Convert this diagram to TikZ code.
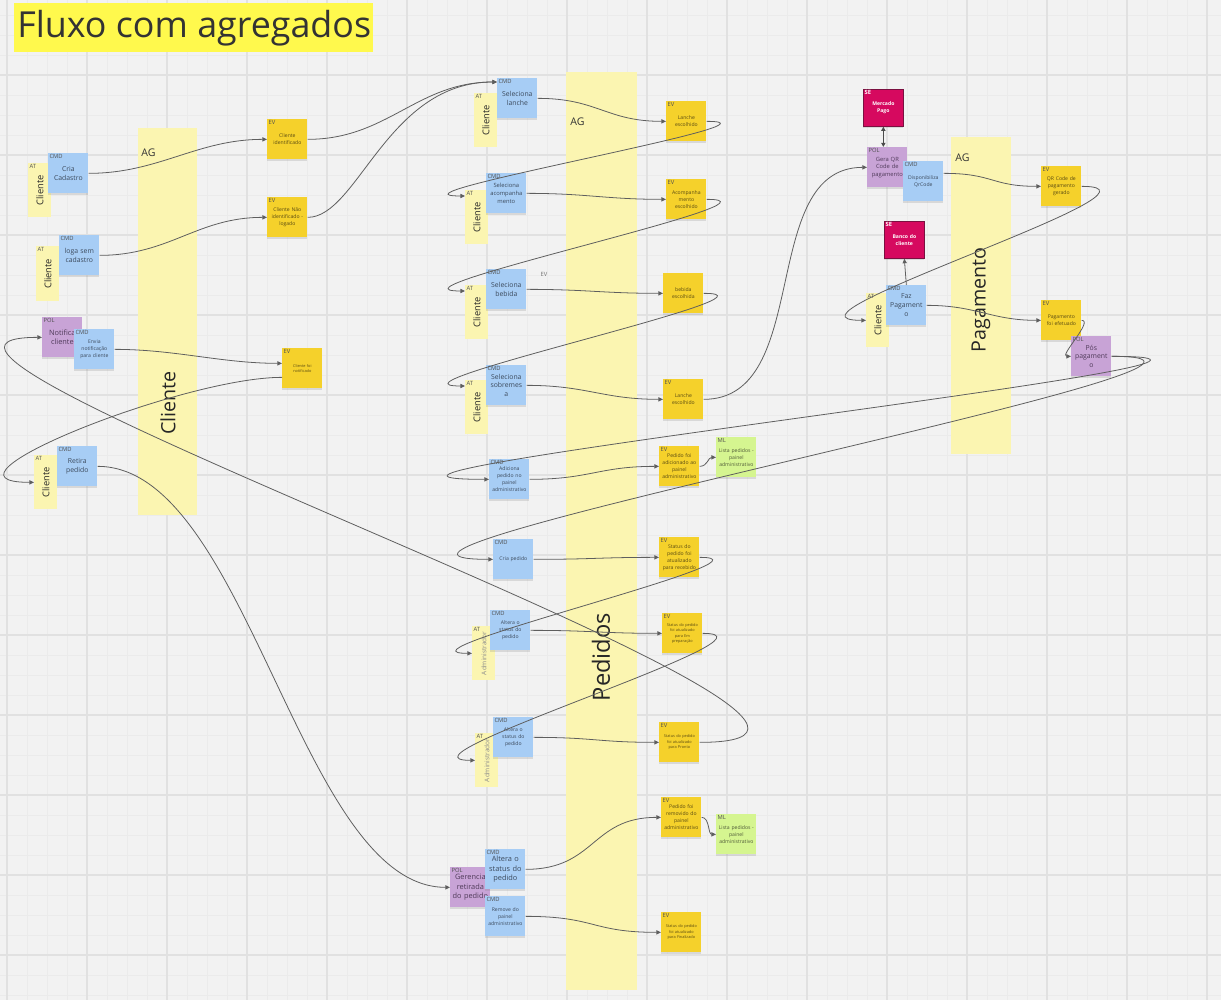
\documentclass[tikz,border=0pt]{standalone}
\usepackage{fontspec}
\setmainfont{Open Sans}
\usepackage{graphicx}
\usetikzlibrary{arrows.meta,calc,shadows}
\definecolor{bgc}{HTML}{F2F2F2}
\definecolor{majorg}{HTML}{E1E1E1}
\definecolor{minorg}{HTML}{EBEBEB}
\definecolor{titlec}{HTML}{FFF94D}
\definecolor{agfill}{HTML}{FBF5B1}
\definecolor{cmdc}{HTML}{A7CDF5}
\definecolor{evc}{HTML}{F5D12B}
\definecolor{polc}{HTML}{C8A3D6}
\definecolor{mlc}{HTML}{D5F590}
\definecolor{sec}{HTML}{D6095F}
\definecolor{sed}{HTML}{7A1040}
\definecolor{linec}{HTML}{5E5E5E}
\definecolor{tagc}{HTML}{505050}
\definecolor{cmdt}{HTML}{3C4A5C}
\definecolor{evt}{HTML}{5A4B12}
\definecolor{polt}{HTML}{4F3A59}
\definecolor{mlt}{HTML}{4F5A38}
\newcommand{\fmed}{\fontsize{3.9}{5}\selectfont}
\newcommand{\fbg}{\fontsize{4.2}{5.3}\selectfont}
\newcommand{\fmid}{\fontsize{3.3}{4.4}\selectfont}
\newcommand{\fsm}{\fontsize{2.9}{4}\selectfont}
\newcommand{\ftiny}{\fontsize{2.2}{3.1}\selectfont}
\newcommand{\ftag}{\fontsize{3.3}{3.6}\selectfont}
\newcommand{\fat}{\fontsize{5.3}{5.6}\selectfont}
\newcommand{\fadm}{\fontsize{3.7}{4}\selectfont}
\begin{document}
\begin{tikzpicture}[x=0.02cm,y=-0.02cm,
  note/.style={rectangle, anchor=north west, minimum width=0.8cm, minimum height=0.8cm,
    inner sep=0.3pt, align=center, text width=0.76cm,
    drop shadow={shadow xshift=0pt, shadow yshift=-0.9pt, opacity=0.22}},
  cmd/.style={note, fill=cmdc, text=cmdt},
  ev/.style={note, fill=evc, text=evt},
  pol/.style={note, fill=polc, text=polt},
  ml/.style={note, fill=mlc, text=mlt},
  se/.style={note, fill=sec, draw=sed, line width=0.4pt, text=white, minimum height=0.74cm,
    font=\fsm\bfseries},
  atn/.style={rectangle, anchor=north west, minimum width=0.46cm, minimum height=1.08cm,
    inner sep=0pt, fill=agfill, text=black!85, font=\fat},
  tag/.style={anchor=north west, inner sep=0.7pt, font=\ftag, text=tagc},
  setag/.style={anchor=north west, inner sep=0.7pt, font=\ftag\bfseries, text=white},
  aglab/.style={anchor=west, inner sep=0pt, font=\fontsize{6}{6}\selectfont, text=black!80},
  bigl/.style={inner sep=0pt, text=black!85},
  conn/.style={draw=linec, line width=0.45pt, -{Triangle[length=2.6pt,width=2.4pt]}},
  dconn/.style={draw=linec!80!black, line width=0.6pt, {Triangle[length=2.4pt,width=2.4pt]}-{Triangle[length=2.4pt,width=2.4pt]}}
]
\useasboundingbox (0,0) rectangle (1221,1000);
\fill[bgc] (0,0) rectangle (1221,1000);
\foreach \x in {7,27,...,1221} \draw[minorg, line width=0.3pt] (\x,0) -- (\x,1000);
\foreach \y in {15,35,...,1000} \draw[minorg, line width=0.3pt] (0,\y) -- (1221,\y);
\foreach \x in {7,87,...,1221} \draw[majorg, line width=0.6pt] (\x,0) -- (\x,1000);
\foreach \y in {-5,75,...,1000} \draw[majorg, line width=0.6pt] (0,\y) -- (1221,\y);

% title
\fill[titlec] (14,3) rectangle (373,52);
\node[anchor=west, inner sep=0pt, font=\fontsize{20.4}{20.4}\selectfont, text=black!80] (title) at (17,28) {Fluxo com agregados};

% aggregate columns
\fill[agfill] (138,128) rectangle (197,515);
\node[aglab] (agcl) at (141,153) {AG};
\node[bigl, font=\fontsize{11.2}{11.2}\selectfont] (agct) at (168,403) {\rotatebox{90}{Cliente}};
\fill[agfill] (566,72) rectangle (637,990);
\node[aglab] (agpl) at (570,122) {AG};
\node[bigl, font=\fontsize{13.5}{13.5}\selectfont] (agpt) at (601,657) {\rotatebox{90}{Pedidos}};
\fill[agfill] (951,137) rectangle (1011,454);
\node[aglab] (agpgl) at (955,158) {AG};
\node[bigl, font=\fontsize{11.2}{11.2}\selectfont] (agpgt) at (981,300) {\rotatebox{90}{Pagamento}};

% ---------- Cliente ----------
\node[atn, label={[tag]north west:AT}] (atc1) at (28,163) {\rotatebox{90}{Cliente}};
\node[cmd, font=\fmed, label={[tag]north west:CMD}] (cria) at (48,153) {Cria\\Cadastro};
\node[atn, minimum height=1.1cm, label={[tag]north west:AT}] (atc2) at (36,246) {\rotatebox{90}{Cliente}};
\node[cmd, font=\fmed, label={[tag]north west:CMD}] (loga) at (59,235) {loga sem\\cadastro};
\node[pol, font=\fbg, label={[tag]north west:POL}] (notif) at (42,317) {Notifica\\cliente};
\node[cmd, font=\fsm, label={[tag]north west:CMD}] (envia) at (74,329) {Envia\\notificação\\para cliente};
\node[atn, label={[tag]north west:AT}] (atc3) at (34,455) {\rotatebox{90}{Cliente}};
\node[cmd, font=\fmed, label={[tag]north west:CMD}] (retira) at (57,446) {Retira\\pedido};
\node[ev, font=\fsm, label={[tag]north west:EV}] (evid) at (267,119) {Cliente\\identificado};
\node[ev, font=\fsm, label={[tag]north west:EV}] (evnid) at (267,197) {Cliente Não\\identificado -\\logado};
\node[ev, font=\ftiny, label={[tag]north west:EV}] (evnot) at (282,348) {Cliente foi\\notificado};

% ---------- Pedidos ----------
\node[atn, label={[tag]north west:AT}] (atp1) at (474,93) {\rotatebox{90}{Cliente}};
\node[cmd, font=\fmed, label={[tag]north west:CMD}] (sl) at (497,78) {Seleciona\\lanche};
\node[ev, font=\fsm, label={[tag]north west:EV}] (evl1) at (666,101) {Lanche\\escolhido};
\node[atn, label={[tag]north west:AT}] (atp2) at (465,190) {\rotatebox{90}{Cliente}};
\node[cmd, font=\fmid, label={[tag]north west:CMD}] (sa) at (486,173) {Seleciona\\acompanha\\mento};
\node[ev, font=\fsm, label={[tag]north west:EV}] (eva) at (666,179) {Acompanha\\mento\\escolhido};
\node[atn, label={[tag]north west:AT}] (atp3) at (465,285) {\rotatebox{90}{Cliente}};
\node[cmd, font=\fmed, label={[tag]north west:CMD}] (sb) at (486,269) {Seleciona\\bebida};
\node[tag, text=black!55] (evstray) at (539,271) {EV};
\node[ev, font=\fsm] (evb) at (663,273) {bebida\\escolhida};
\node[atn, label={[tag]north west:AT}] (atp4) at (465,380) {\rotatebox{90}{Cliente}};
\node[cmd, font=\fmed, label={[tag]north west:CMD}] (ss) at (486,365) {Seleciona\\sobremes\\a};
\node[ev, font=\fsm, label={[tag]north west:EV}] (evl2) at (663,379) {Lanche\\escolhido};
\node[cmd, font=\fsm, label={[tag]north west:CMD}] (ad) at (489,459) {Adiciona\\pedido no\\painel\\administrativo};
\node[ev, font=\fsm, label={[tag]north west:EV}] (evad) at (659,446) {Pedido foi\\adicionado ao\\painel\\administrativo};
\node[ml, font=\fsm, label={[tag]north west:ML}] (ml1) at (716,437) {Lista pedidos -\\painel\\administrativo};
\node[cmd, font=\fsm, label={[tag]north west:CMD}] (cp) at (493,539) {Cria pedido};
\node[ev, font=\fsm, label={[tag]north west:EV}] (evrec) at (659,537) {Status do\\pedido foi\\atualizado\\para recebido};
\node[atn, text=black!45, font=\fadm, label={[tag]north west:AT}] (ata1) at (472,626) {\rotatebox{90}{Administrador}};
\node[cmd, font=\fsm, label={[tag]north west:CMD}] (alt1) at (490,610) {Altera o\\status do\\pedido};
\node[ev, font=\ftiny, label={[tag]north west:EV}] (evprep) at (662,613) {Status do pedido\\foi atualizado\\para Em\\preparação};
\node[atn, text=black!45, font=\fadm, label={[tag]north west:AT}] (ata2) at (475,733) {\rotatebox{90}{Administrador}};
\node[cmd, font=\fsm, label={[tag]north west:CMD}] (alt2) at (493,717) {Altera o\\status do\\pedido};
\node[ev, font=\ftiny, label={[tag]north west:EV}] (evpr) at (659,722) {Status do pedido\\foi atualizado\\para Pronto};
\node[ev, font=\fsm, label={[tag]north west:EV}] (evrem) at (661,797) {Pedido foi\\removido do\\painel\\administrativo};
\node[ml, font=\fsm, label={[tag]north west:ML}] (ml2) at (716,814) {Lista pedidos -\\painel\\administrativo};
\node[pol, font=\fbg, label={[tag]north west:POL}] (ger) at (450,867) {Gerencia\\retirada\\do pedido};
\node[cmd, font=\fbg, label={[tag]north west:CMD}] (alt3) at (485,849) {Altera o\\status do\\pedido};
\node[cmd, font=\fsm, label={[tag]north west:CMD}] (rem) at (485,896) {Remove do\\painel\\administrativo};
\node[ev, font=\ftiny, label={[tag]north west:EV}] (evfin) at (661,912) {Status do pedido\\foi atualizado\\para Finalizado};

% ---------- Pagamento ----------
\node[se, label={[setag]north west:SE}] (semp) at (863,89) {Mercado\\Pago};
\node[pol, font=\fmid, label={[tag]north west:POL}] (gqr) at (867,147) {Gera QR\\Code de\\pagamento};
\node[cmd, font=\fsm, label={[tag]north west:CMD}] (disp) at (903,161) {Disponibiliza\\QrCode};
\node[ev, font=\fsm, label={[tag]north west:EV}] (evqr) at (1041,166) {QR Code de\\pagamento\\gerado};
\node[se, label={[setag]north west:SE}] (sebc) at (884,221) {Banco do\\cliente};
\node[atn, label={[tag]north west:AT}] (atpg) at (866,293) {\rotatebox{90}{Cliente}};
\node[cmd, font=\fmed, label={[tag]north west:CMD}] (faz) at (886,285) {Faz\\Pagament\\o};
\node[ev, font=\fsm, label={[tag]north west:EV}] (evpag) at (1041,300) {Pagamento\\foi efetuado};
\node[pol, font=\fmed, label={[tag]north west:POL}] (pos) at (1071,336) {Pós\\pagament\\o};

% ---------- connectors ----------
\draw[conn] (cria.east) .. controls +(70,0) and +(-70,0) .. (evid.west);
\draw[conn] (loga.east) .. controls +(70,0) and +(-70,0) .. (evnid.west);
\draw[conn] (envia.east) .. controls +(60,0) and +(-60,0) .. ($(evnot.west)+(0,-5)$);
\draw[conn] (evid.east) .. controls +(80,0) and +(-80,0) .. ($(sl.north west)+(0,4)$);
\draw[conn] (evnid.east) .. controls +(50,0) and +(-110,0) .. ($(sl.north west)+(0,4)$);
\draw[conn] (sl.east) .. controls +(60,0) and +(-60,0) .. (evl1.west);
\draw[conn] (evl1.east) .. controls +(95,0) and +(-95,0) .. ($(atp2.north west)+(0,6)$);
\draw[conn] (sa.east) .. controls +(60,0) and +(-60,0) .. (eva.west);
\draw[conn] (eva.east) .. controls +(95,0) and +(-95,0) .. ($(atp3.north west)+(0,6)$);
\draw[conn] (sb.east) .. controls +(60,0) and +(-60,0) .. (evb.west);
\draw[conn] (evb.east) .. controls +(95,0) and +(-95,0) .. ($(atp4.north west)+(0,6)$);
\draw[conn] (ss.east) .. controls +(60,0) and +(-60,0) .. (evl2.west);
\draw[conn] (evl2.east) .. controls +(110,0) and +(-110,0) .. (gqr.west);
\draw[conn] ($(disp.east)+(0,-8)$) .. controls +(50,0) and +(-50,0) .. (evqr.west);
\draw[conn] (evqr.east) .. controls +(110,0) and +(-110,0) .. (atpg.west);
\draw[conn] (faz.east) .. controls +(50,0) and +(-50,0) .. (evpag.west);
\draw[conn] (evpag.east) .. controls +(12,0) and +(-12,0) .. (pos.west);
\draw[conn] (pos.east) .. controls +(260,0) and +(-260,0) .. (ad.west);
\draw[conn] (pos.east) .. controls +(230,0) and +(-230,0) .. (cp.west);
\draw[conn] (ad.east) .. controls +(60,0) and +(-60,0) .. (evad.west);
\draw[conn] (evad.east) .. controls +(8,0) and +(-8,0) .. (ml1.west);
\draw[conn] (cp.east) .. controls +(60,0) and +(-60,0) .. (evrec.west);
\draw[conn] (evrec.east) .. controls +(90,0) and +(-90,0) .. (ata1.west);
\draw[conn] (alt1.east) .. controls +(60,0) and +(-60,0) .. (evprep.west);
\draw[conn] (evprep.east) .. controls +(95,0) and +(-95,0) .. (ata2.west);
\draw[conn] (alt2.east) .. controls +(60,0) and +(-60,0) .. (evpr.west);
\draw[conn] (evpr.east) .. controls +(300,0) and +(-250,0) .. (notif.west);
\draw[conn] ($(evnot.west)+(0,9)$) .. controls +(-100,0) and +(-113,0) .. (atc3.west);
\draw[conn] (retira.east) .. controls +(150,0) and +(-150,0) .. (ger.west);
\draw[conn] (alt3.east) .. controls +(70,0) and +(-70,0) .. (evrem.west);
\draw[conn] (evrem.east) .. controls +(8,0) and +(-8,0) .. (ml2.west);
\draw[conn] (rem.east) .. controls +(70,0) and +(-70,0) .. (evfin.west);
\draw[dconn] (semp.south) -- (semp.south |- gqr.north);
\draw[conn] (faz.north) -- (sebc.south);
\end{tikzpicture}
\end{document}
